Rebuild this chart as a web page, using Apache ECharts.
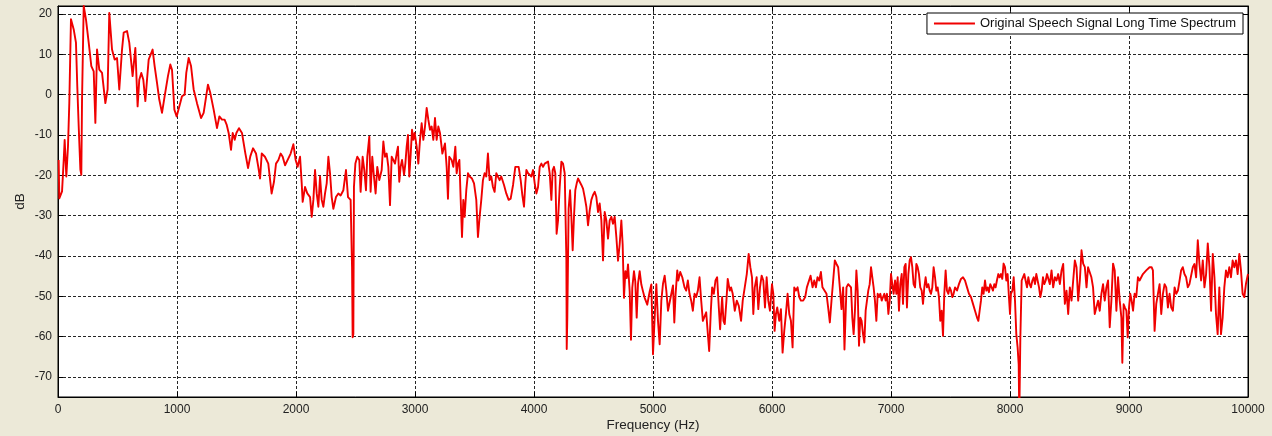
<!DOCTYPE html>
<html>
<head>
<meta charset="utf-8">
<title>Original Speech Signal Long Time Spectrum</title>
<script src="https://cdn.jsdelivr.net/npm/echarts@6/dist/echarts.min.js"></script>
<style>
  html, body { margin: 0; padding: 0; background: #ECE9D8; }
  #chart { width: 1272px; height: 436px; }
</style>
</head>
<body>
<div id="chart"></div>
<script>
// Long-time spectrum of the speech signal, [frequency Hz, level dB], by band
const band0to1650 = [
  [5.6,-16.2],[11,-25.7],[34,-24.0],[48,-16.2],[56,-11.2],[70,-20.3],[84,-12.8],[95,-2.1],[109,18.7],[132,16.2],
  [151,12.9],[162,2.1],[174,-7.9],[188,-18.6],[196,-19.9],[202,-1.2],[216,22.0],[235,18.7],[258,12.9],[280,7.1],
  [300,5.8],[314,-7.0],[328,11.2],[347,6.2],[370,5.4],[398,-2.1],[417,1.3],[431,20.3],[454,11.2],[476,8.7],
  [496,9.1],[515,1.3],[538,11.2],[552,15.4],[580,15.8],[599,12.9],[627,4.6],[650,11.6],[669,-2.9],[683,3.7],
  [700,5.4],[717,3.7],[734,-1.6],[748,3.7],[762,8.7],[795,11.2],[812,7.1],[832,2.9],[851,-1.2],[874,-4.5],
  [896,-0.4],[924,4.6],[944,7.5],[958,6.2],[978,-3.7],[997,-5.4],[1020,-2.9],[1042,-0.4],[1064,0.0],[1078,5.4],
  [1098,9.1],[1118,7.1],[1140,1.3],[1168,-2.1],[1202,-5.8],[1224,-4.5],[1260,2.5],[1280,0.4],[1308,-3.7],[1336,-8.3],
  [1356,-5.4],[1378,-6.2],[1400,-6.2],[1417,-7.4],[1434,-9.5],[1454,-13.7],[1468,-9.5],[1485,-11.2],[1499,-9.5],[1521,-8.3],
  [1546,-9.5],[1574,-14.5],[1597,-18.2],[1616,-15.3],[1639,-13.3]
];
const band1650to3330 = [
  [1664,-14.6],[1683,-17.9],[1698,-20.8],[1712,-14.6],[1739,-15.4],[1767,-17.1],[1795,-24.5],[1815,-21.6],[1832,-17.1],[1852,-16.2],
  [1871,-14.6],[1888,-15.4],[1908,-17.5],[1936,-15.8],[1955,-14.6],[1978,-12.3],[1997,-16.2],[2014,-17.9],[2034,-15.4],[2048,-22.0],
  [2056,-26.6],[2076,-22.9],[2095,-24.5],[2118,-25.4],[2132,-30.3],[2146,-26.1],[2160,-18.7],[2174,-24.5],[2188,-27.8],[2202,-20.3],
  [2216,-26.1],[2230,-27.8],[2244,-24.5],[2258,-22.0],[2272,-15.4],[2286,-19.5],[2300,-25.4],[2314,-28.3],[2336,-25.4],[2356,-24.5],
  [2375,-25.0],[2398,-23.7],[2420,-18.7],[2437,-25.4],[2459,-26.1],[2471,-42.8],[2476,-60.2],[2482,-59.4],[2487,-22.9],[2499,-17.1],
  [2515,-15.4],[2532,-16.2],[2543,-24.1],[2560,-15.4],[2574,-18.7],[2588,-23.7],[2599,-15.4],[2616,-10.4],[2627,-24.1],[2641,-15.4],
  [2655,-20.3],[2669,-24.5],[2683,-17.9],[2700,-21.2],[2720,-18.7],[2734,-11.6],[2748,-15.4],[2762,-14.6],[2776,-17.9],[2790,-27.4],
  [2804,-15.4],[2818,-16.2],[2832,-17.1],[2846,-14.6],[2857,-12.9],[2868,-21.6],[2879,-17.9],[2891,-16.2],[2908,-19.9],[2919,-17.1],
  [2930,-12.9],[2941,-10.0],[2952,-20.3],[2964,-14.6],[2975,-8.7],[2986,-11.2],[2997,-9.5],[3014,-12.9],[3028,-17.1],[3042,-11.2],
  [3056,-7.1],[3070,-11.2],[3084,-7.9],[3098,-3.3],[3112,-6.2],[3126,-8.7],[3140,-7.9],[3154,-11.2],[3168,-5.8],[3182,-11.2],
  [3196,-7.9],[3210,-9.5],[3230,-14.6],[3252,-12.1],[3266,-17.9],[3277,-25.8],[3288,-15.4],[3308,-16.2],[3322,-17.9]
];
const band3330to5000 = [
  [3339,-12.9],[3350,-19.5],[3361,-17.1],[3373,-16.2],[3384,-26.1],[3395,-35.3],[3406,-26.1],[3417,-30.3],[3431,-23.7],[3445,-19.5],
  [3459,-20.3],[3479,-20.8],[3496,-22.0],[3515,-26.1],[3529,-35.3],[3543,-30.3],[3557,-26.1],[3571,-21.2],[3585,-19.5],[3599,-20.3],
  [3613,-14.6],[3627,-21.2],[3641,-20.3],[3655,-22.9],[3669,-24.1],[3683,-19.5],[3697,-19.9],[3711,-21.2],[3725,-20.3],[3748,-22.4],
  [3767,-24.5],[3787,-26.1],[3804,-25.8],[3824,-22.4],[3843,-17.9],[3857,-17.5],[3871,-17.9],[3888,-21.2],[3902,-24.9],[3916,-27.8],
  [3927,-22.0],[3936,-18.7],[3950,-19.5],[3966,-19.5],[3978,-20.3],[3992,-18.7],[4006,-22.0],[4020,-24.5],[4034,-22.9],[4048,-17.9],
  [4062,-17.1],[4076,-17.9],[4090,-17.1],[4104,-17.1],[4118,-16.6],[4132,-19.5],[4146,-26.1],[4157,-18.7],[4168,-17.9],[4179,-19.5],
  [4190,-34.5],[4202,-31.2],[4216,-22.9],[4230,-16.6],[4244,-17.1],[4258,-19.5],[4272,-40.7],[4275,-63.1],[4280,-55.2],[4291,-28.3],
  [4303,-23.7],[4314,-30.3],[4325,-38.6],[4336,-30.3],[4347,-23.7],[4359,-22.0],[4370,-20.8],[4384,-21.2],[4398,-22.4],[4412,-23.3],
  [4426,-25.4],[4440,-27.8],[4454,-32.4],[4468,-28.7],[4482,-26.1],[4496,-24.9],[4510,-24.1],[4524,-25.4],[4538,-29.1],[4552,-27.0],
  [4566,-31.2],[4580,-41.1],[4594,-29.1],[4608,-31.2],[4622,-35.7],[4636,-31.2],[4650,-30.3],[4664,-32.0],[4678,-30.3],[4692,-35.3],
  [4706,-41.2],[4720,-37.1],[4734,-31.2],[4745,-37.1],[4756,-50.4],[4768,-43.8],[4779,-45.5],[4790,-42.1],[4804,-48.8],[4815,-60.8],
  [4826,-47.9],[4840,-43.8],[4851,-46.3],[4863,-55.3],[4874,-46.9],[4888,-43.8],[4902,-47.1],[4916,-48.8],[4930,-50.4],[4952,-52.1],
  [4972,-48.8],[4986,-47.1]
];
const band5000to6650 = [
  [5000,-64.4],[5014,-55.3],[5028,-47.0],[5042,-56.1],[5056,-61.9],[5070,-51.1],[5084,-46.9],[5098,-44.9],[5112,-48.6],[5126,-53.6],
  [5140,-54.0],[5154,-49.4],[5168,-47.3],[5179,-56.5],[5190,-49.4],[5204,-43.6],[5212,-46.1],[5229,-44.0],[5246,-45.3],[5265,-47.8],
  [5279,-48.6],[5293,-46.1],[5307,-49.4],[5321,-51.1],[5335,-53.6],[5349,-49.4],[5363,-50.2],[5377,-48.6],[5391,-45.3],[5405,-51.1],
  [5419,-56.1],[5433,-56.1],[5447,-54.0],[5461,-54.4],[5472,-63.6],[5486,-53.6],[5497,-47.8],[5511,-49.4],[5525,-46.1],[5539,-45.3],
  [5553,-52.8],[5564,-58.2],[5581,-50.2],[5592,-56.1],[5603,-56.9],[5617,-51.1],[5628,-45.7],[5645,-48.6],[5656,-47.8],[5670,-49.4],
  [5687,-53.6],[5704,-51.1],[5721,-52.4],[5740,-56.1],[5754,-51.1],[5771,-47.8],[5788,-44.5],[5804,-39.5],[5818,-42.8],[5832,-45.3],
  [5843,-54.4],[5855,-47.8],[5871,-45.3],[5885,-53.2],[5899,-47.8],[5913,-44.9],[5927,-46.1],[5941,-52.8],[5955,-45.3],[5969,-51.1],
  [5983,-53.6],[6000,-47.0],[6011,-49.4],[6022,-58.6],[6033,-54.4],[6044,-52.8],[6061,-56.1],[6075,-53.2],[6089,-64.0],[6103,-58.6],
  [6117,-54.4],[6131,-49.4],[6145,-54.4],[6159,-56.1],[6173,-62.7],[6187,-47.8],[6201,-48.6],[6215,-47.8],[6229,-50.2],[6243,-51.1],
  [6262,-51.1],[6279,-50.2],[6293,-47.8],[6307,-47.8],[6324,-44.9],[6341,-47.8],[6355,-46.1],[6369,-47.8],[6382,-45.3],[6397,-46.1],
  [6411,-44.0],[6424,-47.8],[6441,-48.6],[6458,-49.4],[6472,-52.8],[6486,-56.5],[6500,-51.1],[6514,-46.1],[6528,-41.1],[6542,-42.0],
  [6556,-42.8],[6570,-47.8],[6584,-53.2],[6598,-47.8],[6609,-63.2],[6626,-47.8],[6640,-47.0],[6648,-47.3]
];
const band6650to8320 = [
  [6664,-47.8],[6675,-55.3],[6686,-59.4],[6697,-53.6],[6709,-43.6],[6720,-48.6],[6731,-62.3],[6742,-55.3],[6753,-56.1],[6765,-59.4],
  [6776,-61.5],[6787,-53.6],[6798,-51.1],[6809,-48.6],[6821,-47.0],[6832,-42.8],[6843,-45.3],[6854,-47.8],[6865,-51.1],[6877,-56.1],
  [6888,-49.4],[6899,-50.2],[6910,-49.4],[6922,-51.1],[6933,-50.2],[6944,-49.4],[6955,-51.1],[6966,-49.4],[6978,-54.4],[6989,-51.1],
  [7000,-44.5],[7011,-47.0],[7022,-49.4],[7034,-46.1],[7045,-49.4],[7056,-45.3],[7067,-53.6],[7078,-47.0],[7090,-44.5],[7101,-51.9],
  [7112,-42.8],[7123,-42.0],[7134,-52.8],[7146,-44.5],[7157,-41.1],[7168,-40.3],[7179,-42.8],[7190,-47.0],[7202,-47.8],[7213,-42.0],
  [7224,-42.8],[7235,-44.5],[7246,-47.8],[7258,-48.6],[7269,-51.9],[7280,-47.8],[7291,-45.3],[7302,-47.8],[7314,-47.0],[7325,-48.6],
  [7336,-49.4],[7347,-47.8],[7358,-42.8],[7370,-45.3],[7381,-48.6],[7392,-47.8],[7403,-50.2],[7414,-56.1],[7426,-53.6],[7437,-59.8],
  [7448,-49.4],[7459,-43.6],[7470,-48.6],[7482,-49.4],[7493,-47.8],[7504,-48.6],[7515,-50.2],[7526,-49.4],[7538,-47.8],[7555,-48.6],
  [7571,-47.0],[7588,-45.7],[7605,-45.3],[7622,-46.1],[7639,-47.8],[7655,-49.4],[7672,-50.2],[7689,-51.9],[7706,-53.6],[7723,-55.3],
  [7734,-56.1],[7745,-53.6],[7756,-51.1],[7767,-47.8],[7778,-49.4],[7790,-46.1],[7801,-48.6],[7812,-47.8],[7823,-49.0],[7834,-47.0],
  [7846,-47.8],[7857,-48.6],[7868,-47.0],[7879,-47.8],[7890,-46.1],[7902,-44.5],[7913,-45.3],[7924,-44.5],[7935,-45.7],[7946,-41.9],
  [7958,-42.8],[7969,-46.1],[7980,-44.5],[7991,-50.2],[8000,-54.4],[8008,-49.4],[8020,-48.6],[8031,-45.3],[8042,-51.1],[8053,-59.4],
  [8064,-62.7],[8073,-66.9],[8078,-80.0],[8087,-60.2],[8098,-46.1],[8109,-45.3],[8120,-44.5],[8131,-46.1],[8143,-47.8],[8154,-45.3],
  [8165,-47.0],[8176,-47.8],[8188,-46.1],[8199,-45.3],[8210,-47.0],[8221,-44.5],[8232,-46.1],[8244,-47.8],[8255,-50.2],[8266,-48.6],
  [8277,-45.3],[8288,-47.0],[8300,-46.1],[8311,-44.5]
];
const band8320to10000 = [
  [8321,-44.5],[8335,-47.0],[8349,-43.6],[8363,-47.8],[8377,-45.3],[8391,-46.1],[8405,-44.5],[8419,-47.0],[8433,-43.6],[8447,-42.0],
  [8461,-51.9],[8475,-48.6],[8489,-54.4],[8503,-47.8],[8517,-51.1],[8531,-46.1],[8545,-41.1],[8559,-42.8],[8573,-51.1],[8587,-46.1],
  [8601,-38.6],[8615,-41.9],[8629,-42.8],[8643,-47.8],[8656,-42.8],[8670,-42.8],[8684,-45.3],[8698,-47.8],[8712,-54.4],[8726,-54.4],
  [8740,-51.1],[8754,-53.6],[8768,-49.4],[8782,-47.0],[8796,-51.1],[8810,-47.8],[8824,-46.1],[8838,-57.7],[8852,-51.1],[8866,-41.9],
  [8880,-43.6],[8894,-53.6],[8908,-45.3],[8922,-51.1],[8936,-55.3],[8944,-66.5],[8955,-52.0],[8966,-52.8],[8978,-53.6],[8989,-60.2],
  [9000,-52.8],[9011,-49.4],[9022,-51.1],[9034,-53.6],[9047,-49.4],[9061,-50.2],[9075,-45.3],[9089,-46.1],[9103,-45.3],[9117,-44.5],
  [9145,-43.6],[9173,-42.8],[9190,-42.8],[9201,-43.6],[9215,-58.6],[9229,-51.9],[9243,-49.4],[9257,-47.0],[9271,-54.4],[9285,-49.4],
  [9299,-47.0],[9313,-47.8],[9327,-52.8],[9341,-49.4],[9355,-52.8],[9369,-53.6],[9383,-47.8],[9397,-49.4],[9411,-48.6],[9425,-46.1],
  [9438,-43.6],[9452,-42.8],[9466,-44.5],[9480,-45.3],[9494,-47.8],[9508,-47.0],[9522,-47.4],[9536,-42.8],[9550,-42.0],[9564,-45.3],
  [9578,-36.1],[9592,-42.0],[9606,-46.1],[9620,-41.1],[9634,-47.8],[9648,-44.5],[9662,-36.9],[9676,-42.8],[9690,-53.6],[9704,-39.5],
  [9718,-45.3],[9731,-54.4],[9745,-59.4],[9759,-47.8],[9773,-59.4],[9787,-55.3],[9801,-47.8],[9815,-43.6],[9829,-45.3],[9843,-42.8],
  [9857,-45.3],[9871,-41.1],[9885,-42.8],[9899,-41.1],[9913,-44.5],[9927,-39.5],[9941,-43.6],[9955,-49.4],[9969,-50.2],[9983,-46.9],
  [10000,-44.5]
];

const seriesName = 'Original Speech Signal Long Time Spectrum';
const xAxisTitle = 'Frequency (Hz)';
const yAxisTitle = 'dB';

const spectrum = [].concat(band0to1650, band1650to3330, band3330to5000,
                           band5000to6650, band6650to8320, band8320to10000);

const font = 'Liberation Sans, Arial, sans-serif';
const gridDash = {
  show: true,
  lineStyle: { color: '#000', width: 1, type: [3, 2], opacity: 0.85 }
};
const inTicks = { show: true, inside: true, length: 5, lineStyle: { color: '#000' } };
const boxLine = { show: true, onZero: false, lineStyle: { color: '#000', width: 1 } };

const xCommon = { type: 'value', min: 0, max: 10000, interval: 1000 };
const yCommon = { type: 'value', min: -75, max: 22, splitNumber: 10 };

const plainNumber = v => String(v);

const chart = echarts.init(document.getElementById('chart'), null, { renderer: 'canvas' });
chart.setOption({
  animation: false,
  backgroundColor: '#ECE9D8',
  textStyle: { fontFamily: font },
  grid: {
    left: 58, right: 24, top: 6, bottom: 39,
    outerBoundsMode: 'none',
    containLabel: false,
    show: true, backgroundColor: '#fff', borderColor: '#000', borderWidth: 1
  },
  legend: {
    data: [seriesName],
    right: 29, top: 13,
    orient: 'horizontal',
    backgroundColor: '#fff',
    borderColor: '#000', borderWidth: 1, borderRadius: 0,
    padding: [4, 7, 4, 7],
    icon: 'rect',
    itemWidth: 41, itemHeight: 2,
    textStyle: { fontFamily: font, fontSize: 13, color: '#111' },
    selectedMode: false
  },
  xAxis: [
    Object.assign({}, xCommon, {
      position: 'bottom',
      name: xAxisTitle, nameLocation: 'middle', nameGap: 21, nameMoveOverlap: false,
      nameTextStyle: { fontFamily: font, fontSize: 13.5, color: '#222' },
      axisLine: boxLine, axisTick: inTicks,
      axisLabel: { fontFamily: font, fontSize: 12, color: '#222', margin: 7, formatter: plainNumber },
      splitLine: gridDash
    }),
    Object.assign({}, xCommon, {
      position: 'top',
      axisLine: boxLine, axisTick: inTicks,
      axisLabel: { show: false }, splitLine: { show: false }
    })
  ],
  yAxis: [
    Object.assign({}, yCommon, {
      position: 'left',
      name: yAxisTitle, nameLocation: 'middle', nameGap: 31, nameRotate: 90, nameMoveOverlap: false,
      nameTextStyle: { fontFamily: font, fontSize: 13.5, color: '#222' },
      axisLine: boxLine, axisTick: inTicks,
      axisLabel: { fontFamily: font, fontSize: 12, color: '#222', margin: 6,
                   showMinLabel: false, showMaxLabel: false, formatter: plainNumber },
      splitLine: gridDash
    }),
    Object.assign({}, yCommon, {
      position: 'right',
      axisLine: boxLine, axisTick: inTicks,
      axisLabel: { show: false }, splitLine: { show: false }
    })
  ],
  series: [{
    name: seriesName,
    type: 'line',
    xAxisIndex: 0, yAxisIndex: 0,
    data: spectrum,
    showSymbol: false,
    symbol: 'none',
    clip: true,
    sampling: null,
    lineStyle: { color: '#F00000', width: 1.9, join: 'round' },
    itemStyle: { color: '#F00000' },
    emphasis: { disabled: true }
  }]
});
</script>
</body>
</html>
